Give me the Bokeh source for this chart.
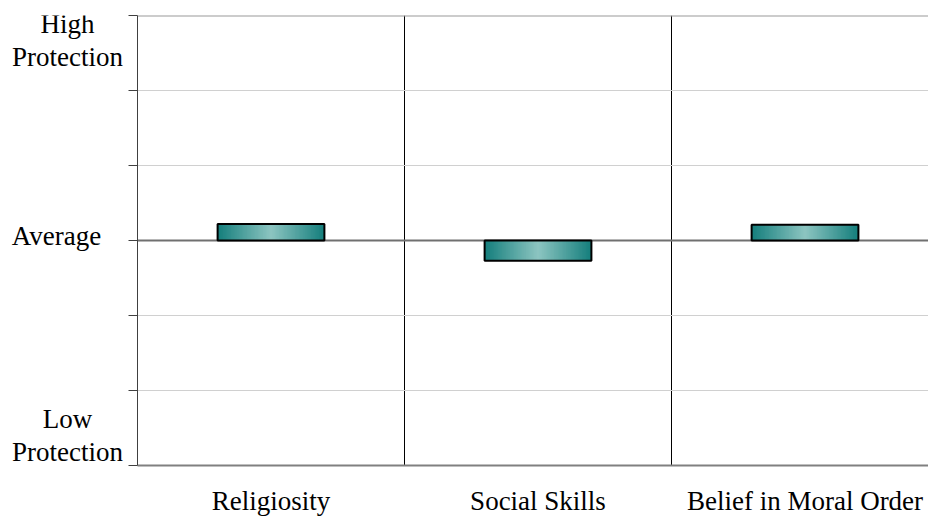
from bokeh.plotting import figure
from bokeh.layouts import row
from bokeh.models import Range1d, FixedTicker, Span
from bokeh.core.properties import value
from bokeh.embed import file_html
from bokeh.resources import INLINE

# ---- data ----
categories = ["Religiosity", "Social Skills", "Belief in Moral Order"]
values = [0.22, -0.27, 0.21]
y_ticks = [-3, -2, -1, 0, 1, 2, 3]
label_ticks = [3, 0, -3]
label_texts = ["High\nProtection", "Average", "Low\nProtection"]

FONT = "Liberation Serif"
FS = "27px"
TOP, BOTTOM = 15, 53
H = 518

# ---- main chart ----
p = figure(width=800, height=H, output_backend="svg", toolbar_location=None,
           x_range=Range1d(0, 2.9625), y_range=Range1d(y_ticks[0], y_ticks[-1]),
           min_border_left=9, min_border_right=0, min_border_top=TOP,
           min_border_bottom=BOTTOM)
p.outline_line_color = None
p.background_fill_color = "white"
p.border_fill_color = "white"

p.xaxis.ticker = FixedTicker(ticks=[i + 0.5 for i in range(len(categories))])
p.xaxis.major_label_overrides = {i + 0.5: c for i, c in enumerate(categories)}
p.xaxis.major_tick_line_color = None
p.xaxis.minor_tick_line_color = None
p.xaxis.axis_line_color = "#808080"
p.xaxis.axis_line_width = 2
p.xaxis.major_label_text_font = FONT
p.xaxis.major_label_text_font_size = FS
p.xaxis.major_label_text_color = "black"
p.xaxis.major_label_standoff = 14

p.yaxis.ticker = FixedTicker(ticks=y_ticks)
p.yaxis.major_label_overrides = {t: "" for t in y_ticks}
p.yaxis.major_label_standoff = 0
p.yaxis.major_tick_out = 9
p.yaxis.major_tick_in = 0
p.yaxis.minor_tick_line_color = None
p.yaxis.axis_line_color = "#404040"
p.yaxis.major_tick_line_color = "#404040"

p.ygrid.ticker = FixedTicker(ticks=y_ticks)
p.ygrid.grid_line_color = "#d0d0d0"
p.ygrid.grid_line_width = 1
p.xgrid.ticker = FixedTicker(ticks=list(range(1, len(categories))))
p.xgrid.grid_line_color = "black"
p.xgrid.grid_line_width = 1

p.add_layout(Span(location=0, dimension="width", line_color="#707070", line_width=2, level="underlay"))
p.add_layout(Span(location=y_ticks[-1], dimension="width", line_color="#999999", line_width=2, level="underlay"))

# bars with horizontal gradient (nested rects, dark edges -> light centre)
bar_w = 0.4
N = 40
edge = (0x16, 0x7f, 0x7d)
centre = (0x8e, 0xc6, 0xc2)
L, R, T, B, C = [], [], [], [], []
for k in range(N):
    t = 1 - k / N
    col = "#%02x%02x%02x" % tuple(int(round(centre[j] * (1 - t) + edge[j] * t)) for j in range(3))
    for i, v in enumerate(values):
        c = i + 0.5
        hw = bar_w / 2 * (1 - k / N)
        L.append(c - hw)
        R.append(c + hw)
        T.append(max(v, 0))
        B.append(min(v, 0))
        C.append(col)
p.quad(left=L, right=R, top=T, bottom=B, fill_color=C, line_color=None)
p.quad(left=[i + 0.5 - bar_w / 2 for i in range(len(values))],
       right=[i + 0.5 + bar_w / 2 for i in range(len(values))],
       top=[max(v, 0) for v in values], bottom=[min(v, 0) for v in values],
       fill_color=None, line_color="black", line_width=2)

# ---- left label panel (frame aligned with the main chart's frame) ----
lw = 128
lp = figure(width=lw, height=H, output_backend="svg", toolbar_location=None,
            x_range=Range1d(0, lw), y_range=Range1d(y_ticks[0], y_ticks[-1]),
            min_border=0, x_axis_type=None, y_axis_type=None)
lp.outline_line_color = None
lp.grid.visible = False
lp.text(x=[67, 56, 67], y=label_ticks, text=label_texts,
        y_offset=[25, -5, -30],
        text_align="center", text_baseline="middle",
        text_font=value(FONT), text_font_size=value(FS), text_color="black",
        text_line_height=1.08)

layout = row(lp, p, spacing=0)
open("out.html", "w").write(file_html(layout, INLINE))
